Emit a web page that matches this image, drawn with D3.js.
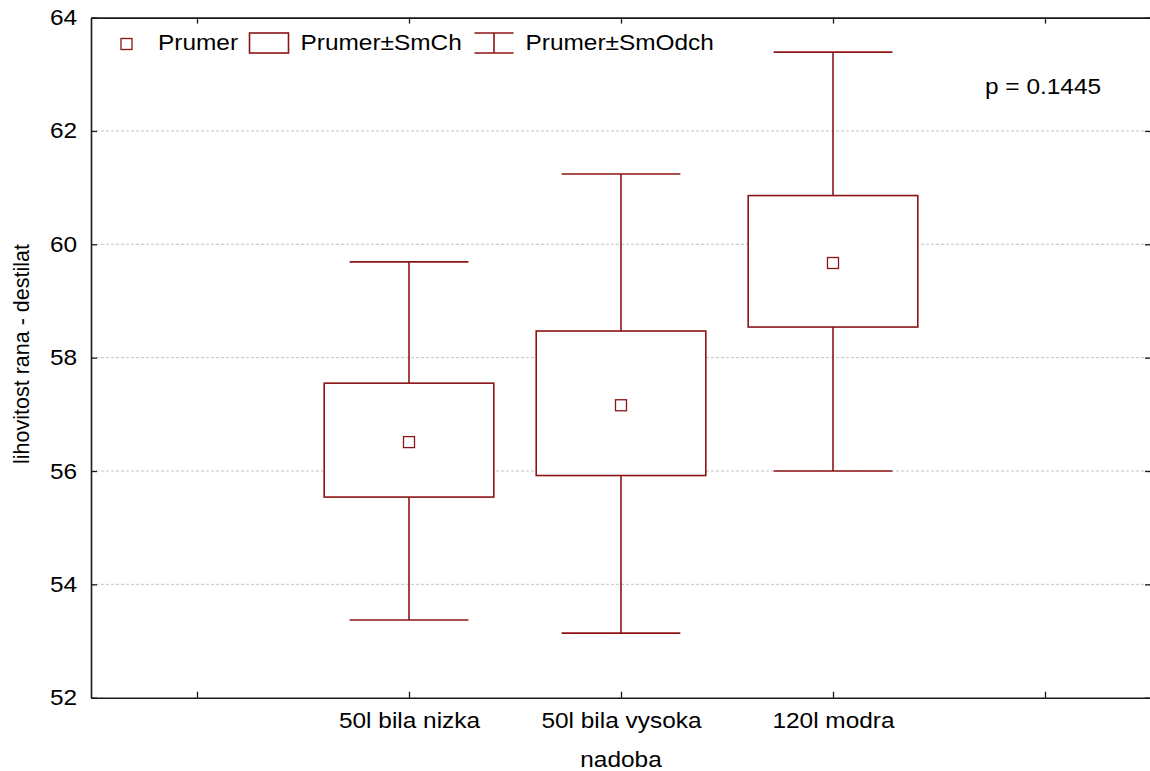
<!DOCTYPE html>
<html>
<head>
<meta charset="utf-8">
<script src="https://cdn.jsdelivr.net/npm/d3@7"></script>
<style>
	body { margin: 0; background: #ffffff; }
	text { font-family: "Liberation Sans", Arial, sans-serif; fill: #000; }
</style>
</head>
<body>
<script>
//chart data
var categories = ["50l bila nizka", "50l bila vysoka", "120l modra"];
var means = [56.51, 57.16, 59.67];   //Prumer
var seLow = [55.54, 55.92, 58.54];   //Prumer-SmCh
var seHigh = [57.55, 58.47, 60.86];  //Prumer+SmCh
var sdLow = [53.37, 53.14, 56.00];   //Prumer-SmOdch
var sdHigh = [59.69, 61.24, 63.39];  //Prumer+SmOdch
var yTicks = [52, 54, 56, 58, 60, 62, 64];
var legendLabels = ["Prumer", "Prumer\u00b1SmCh", "Prumer\u00b1SmOdch"];
var pText = "p = 0.1445";

var width = 1150;
var height = 771;
var red = "#8c1414";
var stretch = "scale(1.11,1)"; //text in the original is a bit wider

//plot frame (note: "top" is taken by window.top)
var plotLeft = 91, plotRight = 1151, plotTop = 17.6, plotBottom = 697.7;

var x = d3.scaleLinear()
		.domain([-0.5, 4.5])
		.range([plotLeft, plotRight]);

var y = d3.scaleLinear()
		.domain([52, 64])
		.range([plotBottom, plotTop]);

var svg = d3.select("body")
		.append("svg")
		.attr("width", width)
		.attr("height", height);

//dashed grid lines
svg.selectAll("line.grid")
	.data(yTicks.slice(1, -1))
	.enter()
		.append("line")
		.attr("class", "grid")
		.attr("x1", plotLeft)
		.attr("x2", plotRight)
		.attr("y1", function(d) { return y(d); })
		.attr("y2", function(d) { return y(d); })
		.attr("stroke", "#c4c4c4")
		.attr("stroke-width", 1)
		.attr("stroke-dasharray", "3,2");

//axes, ticks point inward
var xAxis = d3.axisBottom(x)
		.tickValues([0, 1, 2, 3, 4])
		.tickSizeInner(-6)
		.tickSizeOuter(0)
		.tickPadding(15)
		.tickFormat(function(d) { return (d >= 1 && d <= 3) ? categories[d - 1] : ""; });

var yAxis = d3.axisLeft(y)
		.tickValues(yTicks)
		.tickSizeInner(-6)
		.tickSizeOuter(0)
		.tickPadding(12.5)
		.tickFormat(d3.format("d"));

var gx = svg.append("g")
		.attr("transform", "translate(0," + plotBottom + ")")
		.call(xAxis);

var gy = svg.append("g")
		.attr("transform", "translate(" + plotLeft + ",0)")
		.call(yAxis);

svg.append("g")
	.attr("transform", "translate(0," + plotTop + ")")
	.call(d3.axisTop(x).tickValues([0, 1, 2, 3, 4]).tickSizeInner(-6).tickSizeOuter(0).tickFormat(""));

svg.append("g")
	.attr("transform", "translate(" + plotRight + ",0)")
	.call(d3.axisRight(y).tickValues(yTicks).tickSizeInner(-6).tickSizeOuter(0).tickFormat(""));

svg.selectAll(".domain")
	.attr("stroke", "#1a1a1a")
	.attr("stroke-width", 1.6);
svg.selectAll(".tick line")
	.attr("stroke", "#1a1a1a")
	.attr("stroke-width", 1.3);

gx.selectAll("text")
	.style("font-size", "22px")
	.attr("transform", stretch);
gy.selectAll("text")
	.style("font-size", "22px")
	.attr("transform", stretch);

//whiskers (Prumer +- SmOdch)
var capHalf = 0.28;
var plot = svg.append("g")
		.attr("stroke", red)
		.attr("stroke-width", 1.6)
		.attr("fill", "#ffffff");

categories.forEach(function(c, i)
{
	var cx = x(i + 1);
	plot.append("line")
		.attr("x1", cx).attr("x2", cx)
		.attr("y1", y(sdHigh[i])).attr("y2", y(sdLow[i]));
	plot.append("line")
		.attr("x1", x(i + 1 - capHalf)).attr("x2", x(i + 1 + capHalf))
		.attr("y1", y(sdHigh[i])).attr("y2", y(sdHigh[i]));
	plot.append("line")
		.attr("x1", x(i + 1 - capHalf)).attr("x2", x(i + 1 + capHalf))
		.attr("y1", y(sdLow[i])).attr("y2", y(sdLow[i]));
});

//boxes (Prumer +- SmCh)
var boxHalf = 0.4;
plot.selectAll("rect.box")
	.data(categories)
	.enter()
		.append("rect")
		.attr("class", "box")
		.attr("x", function(d, i) { return x(i + 1 - boxHalf); })
		.attr("width", function(d, i) { return x(i + 1 + boxHalf) - x(i + 1 - boxHalf); })
		.attr("y", function(d, i) { return y(seHigh[i]); })
		.attr("height", function(d, i) { return y(seLow[i]) - y(seHigh[i]); });

//mean markers
plot.selectAll("rect.mean")
	.data(means)
	.enter()
		.append("rect")
		.attr("class", "mean")
		.attr("x", function(d, i) { return x(i + 1) - 5.5; })
		.attr("y", function(d) { return y(d) - 5.5; })
		.attr("width", 11)
		.attr("height", 11)
		.attr("stroke-width", 1.3);

//legend
var legend = svg.append("g");
legend.append("rect")
	.attr("x", 121).attr("y", 38.5)
	.attr("width", 11).attr("height", 11)
	.attr("fill", "none").attr("stroke", red).attr("stroke-width", 1.3);
legend.append("rect")
	.attr("x", 249.5).attr("y", 33)
	.attr("width", 39).attr("height", 20)
	.attr("fill", "none").attr("stroke", red).attr("stroke-width", 1.6);
legend.append("path")
	.attr("d", "M474.5,33H513.5M494,33V53M474.5,53H513.5")
	.attr("fill", "none").attr("stroke", red).attr("stroke-width", 1.6);

var legendX = [158, 300.5, 525.5];
legend.selectAll("text")
	.data(legendLabels)
	.enter()
		.append("text")
		.attr("transform", function(d, i) { return "translate(" + legendX[i] + ",50) " + stretch; })
		.style("font-size", "22px")
		.text(function(d) { return d; });

//p value
svg.append("text")
	.attr("transform", "translate(985,94) " + stretch)
	.style("font-size", "22px")
	.text(pText);

//axis titles
svg.append("text")
	.attr("transform", "translate(621,767) " + stretch)
	.attr("text-anchor", "middle")
	.style("font-size", "22px")
	.text("nadoba");

svg.append("text")
	.attr("transform", "translate(28.5,354) rotate(-90)")
	.attr("text-anchor", "middle")
	.style("font-size", "21.5px")
	.text("lihovitost rana - destilat");
</script>
</body>
</html>
